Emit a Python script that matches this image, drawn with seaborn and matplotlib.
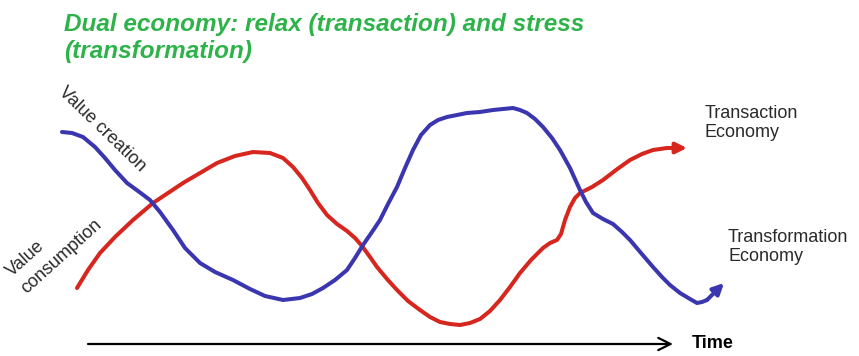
import numpy as np
import pandas as pd
import matplotlib
matplotlib.use("Agg")
import matplotlib.pyplot as plt
import seaborn as sns

# curves, in pixel units (x right, y down)
consumption_x = [77, 88, 100, 115, 133, 153, 168, 183, 200, 217, 235, 253, 270, 283, 293, 302,
                 310, 318, 327, 337, 347, 355, 362, 370, 377, 387, 397, 408, 420, 430, 440, 450,
                 460, 470, 480, 490, 500, 510, 520, 531, 543, 550, 557, 561, 565, 570, 575, 580,
                 592, 603, 616, 630, 642, 653, 667]
consumption_y = [288, 270, 253, 237, 220, 203, 193, 183, 173, 163, 156, 152, 153, 158, 167, 178,
                 190, 203, 215, 224, 231, 238, 246, 257, 267, 279, 290, 301, 310, 317, 322, 324,
                 325, 323, 319, 311, 300, 287, 273, 260, 248, 243, 240, 234, 220, 207, 198, 193,
                 187, 180, 170, 160, 154, 150, 148]
consumption_tip = (687, 148)

creation_x = [62, 72, 83, 95, 105, 115, 127, 138, 150, 160, 173, 185, 200, 215, 233, 250, 265,
              283, 300, 312, 323, 335, 347, 355, 363, 372, 380, 388, 397, 405, 413, 421, 430,
              438, 447, 457, 467, 480, 493, 503, 513, 520, 527, 535, 543, 552, 560, 565, 570,
              575, 580, 586, 593, 603, 613, 622, 630, 641, 653, 662, 670, 680, 690, 697, 702, 707]
creation_y = [132, 133, 137, 147, 158, 170, 183, 191, 200, 212, 230, 248, 263, 272, 280, 289, 296,
              300, 298, 294, 288, 280, 270, 258, 245, 232, 220, 204, 187, 168, 150, 135, 125,
              120, 117, 115, 113, 112, 110, 109, 108, 110, 113, 119, 127, 138, 150, 159, 168,
              179, 190, 202, 213, 219, 224, 232, 240, 253, 267, 277, 285, 293, 299, 303, 302, 300]
creation_tip = (724, 283)

time_start = (88, 344)
time_tip = (673, 344)

RED = "#d7261e"
BLUE = "#3a36b0"
GREEN = "#2db34a"
GREY = "#2a2a2a"

sns.set_theme(style="white")
plt.rcParams["font.family"] = ["Liberation Sans", "DejaVu Sans"]

fig = plt.figure(figsize=(8.59, 3.56), dpi=100)
ax = fig.add_axes([0, 0, 1, 1])

df_cons = pd.DataFrame({"x": consumption_x, "y": consumption_y})
df_crea = pd.DataFrame({"x": creation_x, "y": creation_y})
sns.lineplot(data=df_cons, x="x", y="y", sort=False, estimator=None, color=RED,
             linewidth=2.9, ax=ax, solid_capstyle="round", solid_joinstyle="round")
sns.lineplot(data=df_crea, x="x", y="y", sort=False, estimator=None, color=BLUE,
             linewidth=2.9, ax=ax, solid_capstyle="round", solid_joinstyle="round")

# arrow heads at the curve ends
ax.annotate("", xy=consumption_tip, xytext=(consumption_x[-1], consumption_y[-1]),
            arrowprops=dict(arrowstyle="-|>", color=RED, lw=2.9, mutation_scale=16,
                            shrinkA=0, shrinkB=0))
ax.annotate("", xy=creation_tip, xytext=(creation_x[-1], creation_y[-1]),
            arrowprops=dict(arrowstyle="-|>", color=BLUE, lw=2.9, mutation_scale=16,
                            shrinkA=0, shrinkB=0))
ax.annotate("", xy=time_tip, xytext=time_start,
            arrowprops=dict(arrowstyle="->", color="black", lw=1.6, mutation_scale=22,
                            shrinkA=0, shrinkB=0))

ax.set_xlim(0, 859)
ax.set_ylim(356, 0)
ax.axis("off")

ax.text(64, 58, "Dual economy: relax (transaction) and stress\n(transformation)",
        color=GREEN, fontsize=17.5, fontweight="bold", fontstyle="italic",
        ha="left", va="baseline", linespacing=1.25)

ax.text(58, 93, "Value creation", rotation=-44, rotation_mode="anchor",
        ha="left", va="baseline", fontsize=13, color=GREY)
ax.text(12, 277, "Value", rotation=42, rotation_mode="anchor",
        ha="left", va="baseline", fontsize=13, color=GREY)
ax.text(27, 294, "consumption", rotation=42, rotation_mode="anchor",
        ha="left", va="baseline", fontsize=13, color=GREY)

ax.text(705, 137, "Transaction\nEconomy", ha="left", va="baseline", fontsize=13,
        color=GREY, linespacing=1.15)
ax.text(728, 261, "Transformation\nEconomy", ha="left", va="baseline", fontsize=13,
        color=GREY, linespacing=1.15)
ax.text(692, 348, "Time", ha="left", va="baseline", fontsize=13, fontweight="bold",
        color="black")

fig.savefig("out.png", dpi=100)
